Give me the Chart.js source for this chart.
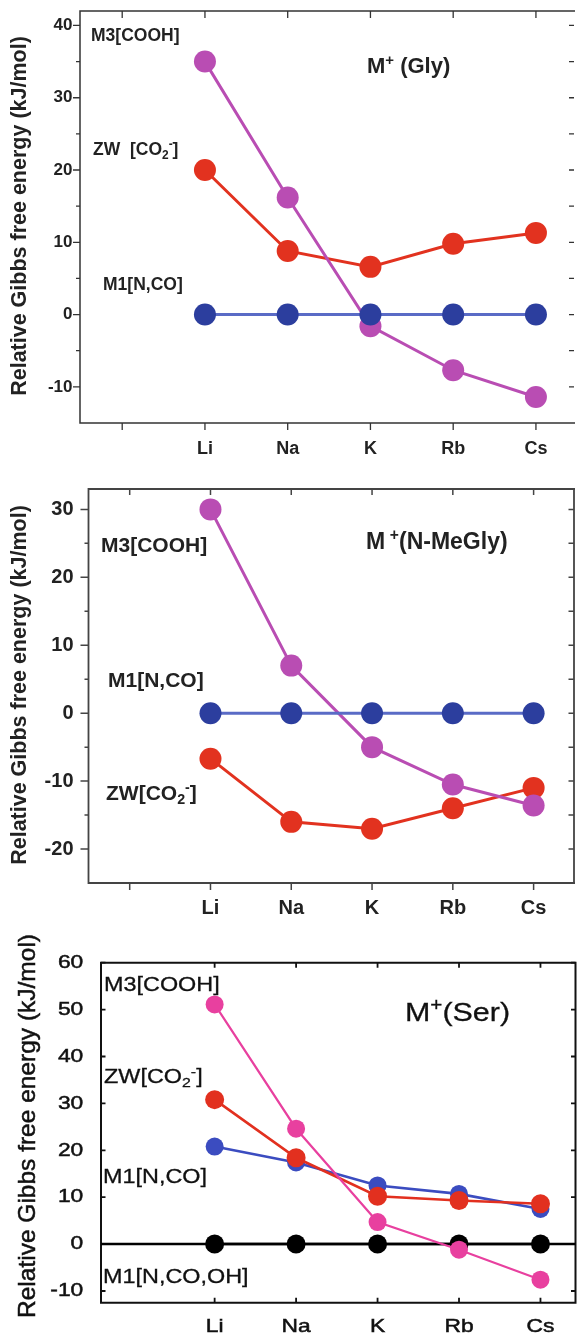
<!DOCTYPE html>
<html lang="en">
<head>
<meta charset="UTF-8">
<title>Relative Gibbs free energy of M+ complexes</title>
<script src="https://cdn.jsdelivr.net/npm/chart.js@4.4.1/dist/chart.umd.min.js"></script>
<style>
    body { margin: 0; background: #fff; }
    .page {
        position: relative;
        width: 585px;
        height: 1338px;
        overflow: hidden;
        font-family: "Liberation Sans", Arial, sans-serif;
        color: #222;
    }
    .panel { position: absolute; left: 0; width: 585px; }
    .panel canvas { position: absolute; left: 0; top: 0; }
    .tag {
        position: absolute;
        white-space: nowrap;
        line-height: 1;
        transform: translateY(-50%);
        transform-origin: left center;
    }
    .tag sub, .tag sup {
        font-size: 0.68em;
        line-height: 0;
        position: relative;
        vertical-align: baseline;
    }
    .tag sub { top: 0.3em; }
    .tag sup { top: -0.55em; }
    .bold .tag { font-weight: bold; }
    .ser .tag { transform: translateY(-50%) scaleX(1.17); color: #111; -webkit-text-stroke: 0.3px #111; }
    .ser { filter: blur(0.3px); }
</style>
</head>
<body>
<div class="page">
    <div class="panel bold" id="p1" style="top:0;height:465px">
        <canvas id="glyChart" width="585" height="465"></canvas>
        <div class="tag" style="left:91px;top:35.5px;font-size:17.5px">M3[COOH]</div>
        <div class="tag" style="left:93px;top:150px;font-size:17.5px">ZW&nbsp; [CO<sub>2</sub><sup>-</sup>]</div>
        <div class="tag" style="left:103px;top:285px;font-size:17.5px">M1[N,CO]</div>
        <div class="tag" style="left:367px;top:66px;font-size:22px">M<sup>+</sup> (Gly)</div>
    </div>

    <div class="panel bold" id="p2" style="top:465px;height:465px">
        <canvas id="meGlyChart" width="585" height="465"></canvas>
        <div class="tag" style="left:101px;top:79px;font-size:21px">M3[COOH]</div>
        <div class="tag" style="left:108px;top:214px;font-size:21px">M1[N,CO]</div>
        <div class="tag" style="left:106px;top:327px;font-size:21px">ZW[CO<sub>2</sub><sup>-</sup>]</div>
        <div class="tag" style="left:366px;top:76px;font-size:23px">M<sup style="margin-left:0.3em">+</sup>(N-MeGly)</div>
    </div>

    <div class="panel ser" id="p3" style="top:925px;height:413px">
        <canvas id="serChart" width="585" height="413"></canvas>
        <div class="tag" style="left:104px;top:59px;font-size:20px">M3[COOH]</div>
        <div class="tag" style="left:104px;top:151px;font-size:20px">ZW[CO<sub>2</sub><sup>-</sup>]</div>
        <div class="tag" style="left:103px;top:251px;font-size:20px">M1[N,CO]</div>
        <div class="tag" style="left:103px;top:351px;font-size:20px">M1[N,CO,OH]</div>
        <div class="tag" style="left:405px;top:87px;font-size:26px">M<sup>+</sup>(Ser)</div>
    </div>
</div>

<script>
    // metal cations along the x axis (positions 1..5, slot 0 left empty)
    const metals = ['Li', 'Na', 'K', 'Rb', 'Cs'];
    const metalPos = [1, 2, 3, 4, 5];

    // M+(Gly), kJ/mol
    const glyM3 = [35.0, 16.2, -1.6, -7.7, -11.4];
    const glyZW = [20.0, 8.8, 6.6, 9.8, 11.3];
    const glyM1 = [0, 0, 0, 0, 0];
    const glyYTicks = [-10, 0, 10, 20, 30, 40];
    const glyYMinor = [-5, 5, 15, 25, 35];

    // M+(N-MeGly), kJ/mol
    const meGlyM3 = [30.0, 7.0, -5.0, -10.5, -13.6];
    const meGlyZW = [-6.7, -16.0, -17.0, -14.0, -11.0];
    const meGlyM1 = [0, 0, 0, 0, 0];
    const meGlyYTicks = [-20, -10, 0, 10, 20, 30];
    const meGlyYMinor = [-15, -5, 5, 15, 25];

    // M+(Ser), kJ/mol
    const serM3 = [51.1, 24.6, 4.7, -1.2, -7.6];
    const serZW = [30.8, 18.4, 10.2, 9.3, 8.6];
    const serM1 = [20.8, 17.4, 12.5, 10.7, 7.5];
    const serM1OH = [0, 0, 0, 0, 0];
    const serYTicks = [-10, 0, 10, 20, 30, 40, 50, 60];

    const yTitle = 'Relative Gibbs free energy (kJ/mol)';

    function drawText(ctx, text, x, y, align, stretch) {
        ctx.save();
        ctx.translate(x, y);
        ctx.scale(stretch, 1);
        ctx.textAlign = align;
        ctx.fillText(text, 0, 0);
        if (ctx.lineWidth > 0 && stretch !== 1) ctx.strokeText(text, 0, 0);
        ctx.restore();
    }

    // box, tick marks, tick labels and y title, drawn from the chart's own scales
    const framePlugin = {
        id: 'frame',
        beforeDatasetsDraw(chart, args, o) {
            const { ctx, chartArea: a, scales: { x, y } } = chart;
            ctx.save();
            ctx.strokeStyle = o.axisColor;
            ctx.lineWidth = o.axisWidth;
            ctx.beginPath();
            ctx.moveTo(a.right + 1, a.top);
            ctx.lineTo(a.left, a.top);
            ctx.lineTo(a.left, a.bottom);
            ctx.lineTo(a.right + 1, a.bottom);
            if (o.rightLine) {
                ctx.moveTo(a.right, a.top);
                ctx.lineTo(a.right, a.bottom);
            }
            ctx.stroke();

            ctx.lineWidth = o.tickWidth;
            ctx.beginPath();
            const seg = (x0, y0, x1, y1) => { ctx.moveTo(x0, y0); ctx.lineTo(x1, y1); };
            y.ticks.forEach(t => {
                const py = y.getPixelForValue(t.value);
                seg(a.left, py, a.left + o.leftDir * o.major, py);
                seg(a.right, py, a.right - o.rightLen, py);
            });
            o.yMinor.forEach(v => {
                const py = y.getPixelForValue(v);
                seg(a.left, py, a.left + o.leftDir * o.minor, py);
                seg(a.right, py, a.right - o.rightLen, py);
            });
            x.ticks.forEach(t => {
                const px = x.getPixelForValue(t.value);
                seg(px, a.top, px, a.top + o.topLen);
                seg(px, a.bottom, px, a.bottom + o.bottomDir * o.bottomLen);
            });
            ctx.stroke();

            if (o.zeroLine) {
                const pz = y.getPixelForValue(0);
                ctx.strokeStyle = '#000';
                ctx.lineWidth = o.zeroLine;
                ctx.beginPath();
                ctx.moveTo(a.left, pz);
                ctx.lineTo(a.right, pz);
                ctx.stroke();
            }

            ctx.fillStyle = o.textColor;
            ctx.strokeStyle = o.textColor;
            ctx.lineWidth = o.textStroke;
            ctx.textBaseline = 'middle';
            ctx.font = o.yFont;
            y.ticks.forEach(t => {
                drawText(ctx, String(t.value), a.left - o.yGap, y.getPixelForValue(t.value), 'right', o.stretch);
            });
            ctx.font = o.xFont;
            metalPos.forEach((p, i) => {
                drawText(ctx, metals[i], x.getPixelForValue(p), o.xLabelY, 'center', o.stretch);
            });

            ctx.font = o.titleFont;
            ctx.translate(o.titleX, o.titleY);
            ctx.rotate(-Math.PI / 2);
            ctx.textAlign = 'center';
            ctx.fillText(yTitle, 0, 0);
            if (o.textStroke > 0) ctx.strokeText(yTitle, 0, 0);
            ctx.restore();
        }
    };

    function series(values, line, marker, radius, width, order) {
        return {
            data: values.map((v, i) => ({ x: metalPos[i], y: v })),
            borderColor: line,
            backgroundColor: marker,
            pointBackgroundColor: marker,
            pointBorderWidth: 0,
            pointRadius: radius,
            borderWidth: width,
            order: order,
            clip: false
        };
    }

    function buildPanel(id, p) {
        const canvas = document.getElementById(id);
        return new Chart(canvas, {
            type: 'line',
            data: { datasets: p.datasets },
            options: {
                responsive: false,
                animation: false,
                events: [],
                layout: {
                    padding: { left: 0, top: p.area[1], right: canvas.width - p.area[2], bottom: 0 }
                },
                scales: {
                    x: {
                        type: 'linear',
                        min: p.xMin,
                        max: p.xMax,
                        ticks: { display: false },
                        grid: { display: false },
                        border: { display: false },
                        afterBuildTicks: s => { s.ticks = p.xTicks.map(v => ({ value: v })); },
                        afterFit: s => { s.height = canvas.height - p.area[3]; }
                    },
                    y: {
                        type: 'linear',
                        min: p.yMin,
                        max: p.yMax,
                        ticks: { display: false },
                        grid: { display: false },
                        border: { display: false },
                        afterBuildTicks: s => { s.ticks = p.yTicks.map(v => ({ value: v })); },
                        afterFit: s => { s.width = p.area[0]; }
                    }
                },
                plugins: {
                    legend: { display: false },
                    tooltip: { enabled: false },
                    frame: p.frame
                }
            },
            plugins: [framePlugin]
        });
    }

    const purple = '#b94db3', red = '#e2321f', blue = '#2c3e9e', blueLine = '#5a6bc6';

    buildPanel('glyChart', {
        area: [80, 11, 585, 423],
        xMin: -0.51, xMax: 5.46, xTicks: [0, 1, 2, 3, 4, 5],
        yMin: -15, yMax: 42, yTicks: glyYTicks,
        datasets: [
            series(glyM1, blueLine, blue, 11, 3, 0),
            series(glyM3, purple, purple, 11, 3, 1),
            series(glyZW, red, red, 11, 3, 2)
        ],
        frame: {
            axisColor: '#333', axisWidth: 1.5, tickWidth: 1.3, rightLine: false,
            leftDir: -1, major: 7, minor: 4, rightLen: 5, topLen: 7, bottomDir: 1, bottomLen: 7,
            yMinor: glyYMinor, zeroLine: 0,
            textColor: '#222', textStroke: 0, stretch: 1,
            yFont: 'bold 17px "Liberation Sans", Arial, sans-serif', yGap: 7.5,
            xFont: 'bold 18px "Liberation Sans", Arial, sans-serif', xLabelY: 449,
            titleFont: 'bold 21.5px "Liberation Sans", Arial, sans-serif', titleX: 20, titleY: 216
        }
    });

    buildPanel('meGlyChart', {
        area: [88.5, 24, 580, 418],
        xMin: -0.51, xMax: 5.5, xTicks: [0, 1, 2, 3, 4, 5],
        yMin: -25, yMax: 33, yTicks: meGlyYTicks,
        datasets: [
            series(meGlyM1, blueLine, blue, 11, 3, 0),
            series(meGlyM3, purple, purple, 11, 3, 1),
            series(meGlyZW, red, red, 11, 3, 2)
        ],
        frame: {
            axisColor: '#444', axisWidth: 1.8, tickWidth: 1.5, rightLine: true,
            leftDir: -1, major: 8, minor: 4, rightLen: 5.5, topLen: 6, bottomDir: 1, bottomLen: 7,
            yMinor: meGlyYMinor, zeroLine: 0,
            textColor: '#222', textStroke: 0, stretch: 1,
            yFont: 'bold 20px "Liberation Sans", Arial, sans-serif', yGap: 15,
            xFont: 'bold 20px "Liberation Sans", Arial, sans-serif', xLabelY: 443,
            titleFont: 'bold 21.5px "Liberation Sans", Arial, sans-serif', titleX: 20, titleY: 220
        }
    });

    buildPanel('serChart', {
        area: [101, 37.7, 580, 377.7],
        xMin: -0.395, xMax: 5.43, xTicks: metalPos,
        yMin: -12.5, yMax: 60, yTicks: serYTicks,
        datasets: [
            series(serM3, '#e8409f', '#e8409f', 9, 2.2, 0),
            series(serZW, '#e2301f', '#e2301f', 9.5, 2.6, 1),
            series(serM1, '#3b4cc0', '#3b4cc0', 9, 2.6, 2),
            series(serM1OH, '#000', '#000', 9.5, 2.5, 3)
        ],
        frame: {
            axisColor: '#111', axisWidth: 2, tickWidth: 1.8, rightLine: true,
            leftDir: 1, major: 4.5, minor: 0, rightLen: 4.5, topLen: 5, bottomDir: -1, bottomLen: 5,
            yMinor: [], zeroLine: 2.5,
            textColor: '#111', textStroke: 0.5, stretch: 1.2,
            yFont: '19px "Liberation Sans", Arial, sans-serif', yGap: 17.7,
            xFont: '19px "Liberation Sans", Arial, sans-serif', xLabelY: 402,
            titleFont: '24.5px "Liberation Sans", Arial, sans-serif', titleX: 28, titleY: 201
        }
    });
</script>
</body>
</html>
